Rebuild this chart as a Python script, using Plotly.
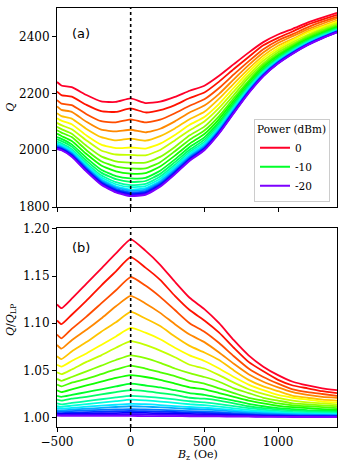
import plotly.graph_objects as go
from plotly.subplots import make_subplots

# ---------------- data ----------------
B_z = [-500, -470, -400, -300, -200, -100, 0, 100, 200, 300, 400, 500,
       600, 700, 800, 900, 1000, 1100, 1200, 1300, 1400]

powers_dBm = [0, -1, -2, -3, -4, -5, -6, -7, -8, -9, -10,
              -11, -12, -13, -14, -15, -16, -17, -18, -19, -20]

# low-power reference quality factor Q_LP (Oe grid above)
Q_LP = [2000, 1996, 1973, 1921, 1875, 1848, 1835, 1840, 1868, 1912, 1960,
        1997, 2056, 2128, 2198, 2258, 2303, 2338, 2368, 2392, 2413]

# Q / Q_LP for each power
r_p0 = [1.120, 1.116, 1.126, 1.142, 1.158, 1.174, 1.189, 1.177, 1.162, 1.144, 1.127, 1.115, 1.100, 1.082, 1.066, 1.054, 1.045, 1.038, 1.034, 1.031, 1.029]
r_m1 = [1.103, 1.099, 1.109, 1.124, 1.140, 1.155, 1.170, 1.159, 1.146, 1.129, 1.114, 1.103, 1.090, 1.074, 1.059, 1.049, 1.040, 1.034, 1.031, 1.028, 1.026]
r_m2 = [1.088, 1.084, 1.094, 1.107, 1.121, 1.135, 1.149, 1.140, 1.128, 1.114, 1.100, 1.091, 1.079, 1.065, 1.052, 1.043, 1.036, 1.030, 1.027, 1.025, 1.023]
r_m3 = [1.077, 1.073, 1.082, 1.093, 1.105, 1.118, 1.129, 1.121, 1.111, 1.099, 1.088, 1.080, 1.069, 1.057, 1.046, 1.038, 1.032, 1.027, 1.024, 1.022, 1.021]
r_m4 = [1.065, 1.062, 1.070, 1.080, 1.091, 1.101, 1.112, 1.105, 1.097, 1.086, 1.076, 1.069, 1.061, 1.050, 1.040, 1.033, 1.028, 1.023, 1.021, 1.019, 1.018]
r_m5 = [1.056, 1.054, 1.060, 1.068, 1.077, 1.086, 1.095, 1.090, 1.083, 1.074, 1.066, 1.060, 1.052, 1.043, 1.035, 1.029, 1.024, 1.021, 1.019, 1.017, 1.016]
r_m6 = [1.048, 1.046, 1.051, 1.059, 1.066, 1.074, 1.081, 1.077, 1.071, 1.064, 1.056, 1.052, 1.045, 1.037, 1.030, 1.025, 1.021, 1.018, 1.016, 1.015, 1.014]
r_m7 = [1.041, 1.039, 1.043, 1.049, 1.055, 1.061, 1.066, 1.063, 1.058, 1.052, 1.047, 1.043, 1.038, 1.031, 1.026, 1.021, 1.018, 1.015, 1.014, 1.013, 1.012]
r_m8 = [1.035, 1.033, 1.037, 1.041, 1.046, 1.051, 1.055, 1.052, 1.048, 1.044, 1.039, 1.036, 1.031, 1.026, 1.021, 1.018, 1.015, 1.013, 1.012, 1.011, 1.010]
r_m9 = [1.029, 1.027, 1.030, 1.034, 1.038, 1.042, 1.045, 1.043, 1.040, 1.036, 1.032, 1.030, 1.026, 1.022, 1.018, 1.015, 1.0125, 1.011, 1.010, 1.009, 1.0085]
r_m10 = [1.023, 1.022, 1.024, 1.027, 1.030, 1.033, 1.036, 1.034, 1.032, 1.029, 1.026, 1.024, 1.021, 1.018, 1.0145, 1.012, 1.010, 1.009, 1.008, 1.0075, 1.007]
r_m11 = [1.019, 1.018, 1.020, 1.022, 1.0245, 1.027, 1.029, 1.028, 1.026, 1.024, 1.021, 1.020, 1.018, 1.015, 1.012, 1.010, 1.0086, 1.0074, 1.0068, 1.0063, 1.006]
r_m12 = [1.015, 1.014, 1.0155, 1.0174, 1.0194, 1.0213, 1.023, 1.0223, 1.0209, 1.0192, 1.0173, 1.0161, 1.0143, 1.0121, 1.010, 1.0083, 1.0071, 1.0061, 1.0056, 1.0052, 1.005]
r_m13 = [1.012, 1.0114, 1.0126, 1.0142, 1.0158, 1.0174, 1.019, 1.0182, 1.017, 1.0156, 1.0141, 1.0131, 1.0116, 1.0098, 1.0081, 1.0067, 1.0057, 1.0049, 1.0045, 1.0042, 1.004]
r_m14 = [1.010, 1.0095, 1.0103, 1.0115, 1.0126, 1.0136, 1.0145, 1.0142, 1.0133, 1.0122, 1.0112, 1.0104, 1.0093, 1.0079, 1.0065, 1.0055, 1.0046, 1.004, 1.0037, 1.0034, 1.0033]
r_m15 = [1.008, 1.0076, 1.0084, 1.0094, 1.0103, 1.0112, 1.012, 1.0115, 1.0109, 1.010, 1.0091, 1.0085, 1.0076, 1.0064, 1.0053, 1.0045, 1.0038, 1.0033, 1.003, 1.0028, 1.0027]
r_m16 = [1.0065, 1.0062, 1.0069, 1.0076, 1.0081, 1.0086, 1.009, 1.0087, 1.0082, 1.0075, 1.0069, 1.0064, 1.0057, 1.0048, 1.004, 1.0034, 1.0029, 1.0025, 1.0023, 1.0022, 1.0021]
r_m17 = [1.005, 1.0048, 1.0053, 1.0058, 1.0063, 1.0067, 1.007, 1.0068, 1.0064, 1.0059, 1.0053, 1.005, 1.0044, 1.0037, 1.0031, 1.0026, 1.0022, 1.0019, 1.0018, 1.0017, 1.0016]
r_m18 = [1.004, 1.0038, 1.0041, 1.0044, 1.0046, 1.0048, 1.005, 1.0049, 1.0046, 1.0043, 1.0039, 1.0036, 1.0032, 1.0027, 1.0023, 1.0019, 1.0016, 1.0014, 1.0013, 1.0012, 1.0012]
r_m19 = [1.003, 1.0028, 1.003, 1.0031, 1.0032, 1.0032, 1.0033, 1.0032, 1.003, 1.0028, 1.0026, 1.0024, 1.0021, 1.0018, 1.0015, 1.0013, 1.0011, 1.001, 1.0009, 1.0008, 1.0008]
r_m20 = [1.002, 1.0019, 1.0019, 1.0018, 1.0018, 1.0017, 1.0017, 1.0016, 1.0016, 1.0015, 1.0014, 1.0013, 1.0012, 1.001, 1.0009, 1.0008, 1.0007, 1.0006, 1.0006, 1.0005, 1.0005]

ratios = [r_p0, r_m1, r_m2, r_m3, r_m4, r_m5, r_m6, r_m7, r_m8, r_m9, r_m10,
          r_m11, r_m12, r_m13, r_m14, r_m15, r_m16, r_m17, r_m18, r_m19, r_m20]

legend_powers = [0, -10, -20]
x_ticks = [-500, 0, 500, 1000]
top_ticks = [1800, 2000, 2200, 2400]
bot_ticks = [1.00, 1.05, 1.10, 1.15, 1.20]

# ---------------- colours (gist_rainbow-like) ----------------
_GR = [(0.000, (1.00, 0.00, 0.16)), (0.030, (1.00, 0.00, 0.00)),
       (0.215, (1.00, 1.00, 0.00)), (0.400, (0.00, 1.00, 0.00)),
       (0.586, (0.00, 1.00, 1.00)), (0.770, (0.00, 0.00, 1.00)),
       (0.954, (1.00, 0.00, 1.00)), (1.000, (1.00, 0.00, 0.75))]


def gist_rainbow(t):
    for (t0, c0), (t1, c1) in zip(_GR[:-1], _GR[1:]):
        if t0 <= t <= t1:
            f = (t - t0) / (t1 - t0)
            rgb = [c0[k] + f * (c1[k] - c0[k]) for k in range(3)]
            return "rgb({},{},{})".format(*[int(round(255 * v)) for v in rgb])
    return "rgb(255,0,191)"


n = len(powers_dBm)
colors = [gist_rainbow(0.86 * i / (n - 1)) for i in range(n)]

# ---------------- figure ----------------
fig = make_subplots(rows=2, cols=1, shared_xaxes=False, vertical_spacing=0.05)

for i, (p, r) in enumerate(zip(powers_dBm, ratios)):
    q = [ri * ql for ri, ql in zip(r, Q_LP)]
    show = p in legend_powers
    line = dict(color=colors[i], width=1.8, shape="spline", smoothing=0.5)
    fig.add_trace(go.Scatter(x=B_z, y=q, mode="lines", line=line,
                             name=str(p), showlegend=show, legendgroup=str(p)),
                  row=1, col=1)
    fig.add_trace(go.Scatter(x=B_z, y=r, mode="lines", line=line,
                             name=str(p), showlegend=False, legendgroup=str(p)),
                  row=2, col=1)

tickfont = dict(family="DejaVu Serif", size=12, color="black")
axis_common = dict(range=[-500, 1400], showline=True, linecolor="black",
                   linewidth=1, mirror=True, ticks="outside", ticklen=4,
                   tickcolor="black", showgrid=False, zeroline=False,
                   tickvals=x_ticks, automargin=False, tickfont=tickfont)

fig.update_xaxes(**axis_common, showticklabels=False, row=1, col=1)
fig.update_xaxes(**axis_common, showticklabels=True, row=2, col=1)

yaxis_common = dict(showline=True, linecolor="black", linewidth=1, mirror=True,
                    ticks="outside", ticklen=4, tickcolor="black",
                    showgrid=False, zeroline=False, automargin=False,
                    tickfont=tickfont)

fig.update_yaxes(**yaxis_common, range=[1800, 2500], tickvals=top_ticks,
                 row=1, col=1)
fig.update_yaxes(**yaxis_common, range=[0.99, 1.201], tickvals=bot_ticks,
                 tickformat=".2f", row=2, col=1)

# vertical dotted line at B_z = 0
for xr, yr in (("x", "y domain"), ("x2", "y2 domain")):
    fig.add_shape(type="line", x0=0, x1=0, y0=0, y1=1, xref=xr, yref=yr,
                  line=dict(color="black", width=1.6, dash="dot"), layer="above")

titlefont = dict(family="DejaVu Serif", size=11, color="black")
fig.add_annotation(text="<i>Q</i>", x=-0.165, y=0.764, xref="paper", yref="paper",
                   xanchor="center", yanchor="middle",
                   textangle=-90, showarrow=False, font=titlefont)
fig.add_annotation(text="<i>Q</i>/<i>Q</i><sub>LP</sub>", x=-0.165, y=0.255,
                   xref="paper", yref="paper", xanchor="center", yanchor="middle",
                   textangle=-90, showarrow=False, font=titlefont)
fig.add_annotation(text="<i>B</i><sub>z</sub> (Oe)", x=0.5, y=-0.068,
                   xref="paper", yref="paper", xanchor="center", yanchor="middle",
                   showarrow=False, font=titlefont)

panel_font = dict(family="DejaVu Sans", size=13, color="black")
fig.add_annotation(text="(a)", x=0.086, y=0.874, xref="x domain", yref="y domain",
                   xanchor="center", yanchor="middle", showarrow=False, font=panel_font)
fig.add_annotation(text="(b)", x=0.086, y=0.90, xref="x2 domain", yref="y2 domain",
                   xanchor="center", yanchor="middle", showarrow=False, font=panel_font)

fig.update_layout(
    width=346, height=466,
    margin=dict(l=57, r=9, t=8, b=39, autoexpand=False),
    paper_bgcolor="white", plot_bgcolor="white",
    showlegend=True,
    legend=dict(title=dict(text="Power (dBm)",
                           font=dict(family="DejaVu Serif", size=10.5, color="black"),
                           side="top"),
                font=dict(family="DejaVu Serif", size=10.5, color="black"),
                x=0.975, y=0.538, xanchor="right", yanchor="bottom",
                bgcolor="rgba(255,255,255,0.85)", bordercolor="#cccccc",
                borderwidth=1, itemwidth=30, tracegroupgap=0),
)
fig.layout.xaxis.domain = [0, 1]
fig.layout.yaxis.domain = [0.525, 1.0]
fig.layout.yaxis2.domain = [0.0, 0.475]

fig.write_html("out.html",
               config={"displayModeBar": False, "staticPlot": True},
               post_script="document.body.style.margin='0';"
                           "document.body.style.padding='0';"
                           "document.body.style.overflow='hidden';")
